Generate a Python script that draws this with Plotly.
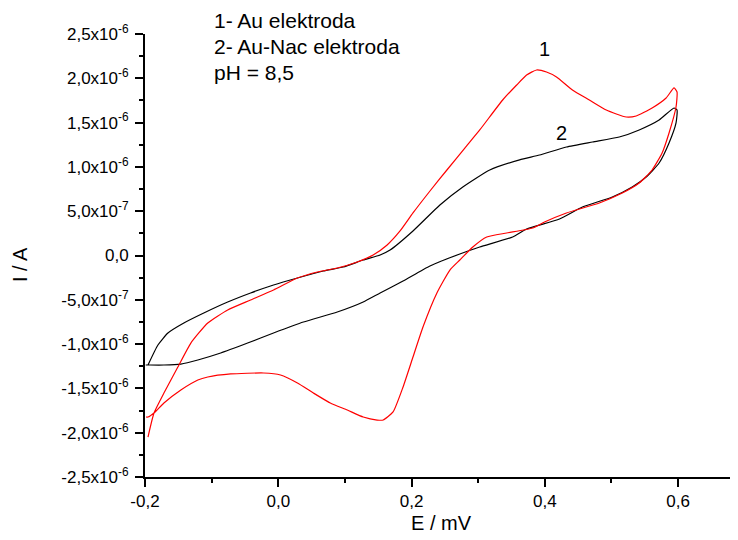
import plotly.graph_objects as go

# Curve 1: Au elektroda (red) - E in V, I in microampere
au_E = [-0.1955, -0.1865, -0.1716, -0.1507, -0.1312, -0.1058, -0.0759, -0.0415, -0.0071, 0.0288,
        0.0587, 0.0886, 0.1185, 0.1424, 0.1634, 0.1828, 0.2022, 0.2277, 0.2531, 0.2800,
        0.3024, 0.3368, 0.3578, 0.3727, 0.3877, 0.4026, 0.4176, 0.4415, 0.4669, 0.4923,
        0.5222, 0.5372, 0.5611, 0.5821, 0.5940, 0.5985,
        0.5970, 0.5865, 0.5761, 0.5611, 0.5417, 0.5163, 0.4819, 0.4325, 0.3996, 0.3817,
        0.3428, 0.3129, 0.2920, 0.2725, 0.2576, 0.2381, 0.2172, 0.2022, 0.1873, 0.1723,
        0.1574, 0.1484, 0.1275, 0.1036, 0.0781, 0.0527, 0.0288, 0.0034, -0.0221, -0.0714,
        -0.1058, -0.1207, -0.1462, -0.1716, -0.1865, -0.1955, -0.1985]
au_I = [-2.049, -1.778, -1.552, -1.259, -0.988, -0.762, -0.615, -0.502, -0.389, -0.254,
        -0.186, -0.141, -0.073, 0.006, 0.119, 0.277, 0.480, 0.728, 0.965, 1.213,
        1.417, 1.755, 1.924, 2.037, 2.094, 2.071, 2.015, 1.868, 1.755, 1.642,
        1.563, 1.575, 1.665, 1.778, 1.891, 1.845,
        1.676, 1.383, 1.157, 0.965, 0.818, 0.705, 0.593, 0.480, 0.378, 0.310,
        0.254, 0.209, 0.096, -0.051, -0.164, -0.423, -0.807, -1.146, -1.484, -1.766,
        -1.857, -1.857, -1.823, -1.744, -1.665, -1.552, -1.439, -1.349, -1.326, -1.337,
        -1.371, -1.405, -1.518, -1.665, -1.778, -1.823, -1.823]

# Curve 2: Au-Nac elektroda (black)
nac_E = [-0.1955, -0.1806, -0.1656, -0.1417, -0.1118, -0.0759, -0.0415, -0.0071, 0.0288, 0.0677,
         0.0976, 0.1275, 0.1529, 0.1678, 0.2022, 0.2426, 0.2770, 0.3174, 0.3622, 0.3921,
         0.4325, 0.4717, 0.5118, 0.5417, 0.5716, 0.5940, 0.5985,
         0.5970, 0.5865, 0.5716, 0.5522, 0.5312, 0.5013, 0.4565, 0.4221, 0.3727, 0.3518,
         0.3024, 0.2725, 0.2277, 0.1873, 0.1529, 0.1275, 0.0886, 0.0378, -0.0071, -0.0460,
         -0.0864, -0.1207, -0.1462, -0.1716, -0.1955, -0.1990]
nac_I = [-1.236, -1.010, -0.875, -0.762, -0.649, -0.525, -0.423, -0.333, -0.254, -0.175,
         -0.130, -0.051, 0.006, 0.062, 0.277, 0.570, 0.773, 0.965, 1.080, 1.134,
         1.225, 1.281, 1.337, 1.417, 1.529, 1.665, 1.642,
         1.496, 1.270, 1.044, 0.886, 0.773, 0.660, 0.547, 0.412, 0.299, 0.209,
         0.096, 0.017, -0.119, -0.288, -0.423, -0.525, -0.638, -0.751, -0.875, -0.988,
         -1.100, -1.179, -1.225, -1.236, -1.236, -1.236]

x_ticks = [-0.2, 0.0, 0.2, 0.4, 0.6]
x_ticktext = ["-0,2", "0,0", "0,2", "0,4", "0,6"]
y_ticks = [2.5e-6, 2.0e-6, 1.5e-6, 1.0e-6, 5.0e-7, 0.0, -5.0e-7, -1.0e-6, -1.5e-6, -2.0e-6, -2.5e-6]
y_ticktext = ["2,5x10<sup>-6</sup>", "2,0x10<sup>-6</sup>", "1,5x10<sup>-6</sup>", "1,0x10<sup>-6</sup>",
              "5,0x10<sup>-7</sup>", "0,0", "-5,0x10<sup>-7</sup>", "-1,0x10<sup>-6</sup>",
              "-1,5x10<sup>-6</sup>", "-2,0x10<sup>-6</sup>", "-2,5x10<sup>-6</sup>"]

FONT = "Arial, Liberation Sans, sans-serif"

# page geometry (browser body adds an 8px offset)
PL, PT, PW, PH = 145, 34, 593, 443


def px(x):
    return (x - PL) / PW


def py(y):
    return 1 - (y - PT) / PH


fig = go.Figure()
fig.add_trace(go.Scatter(x=nac_E, y=[v * 1e-6 for v in nac_I], mode="lines",
                         line=dict(color="#000000", width=1.2, shape="spline", smoothing=0.5), name="2"))
fig.add_trace(go.Scatter(x=au_E, y=[v * 1e-6 for v in au_I], mode="lines",
                         line=dict(color="#ff0000", width=1.2, shape="spline", smoothing=0.5), name="1"))

fig.update_layout(
    width=730, height=532,
    margin=dict(l=137, r=0, t=26, b=63),
    paper_bgcolor="white", plot_bgcolor="white",
    showlegend=False,
    font=dict(family=FONT, size=17, color="black"),
)
fig.update_xaxes(
    range=[-0.2, 0.69], tickvals=x_ticks, ticktext=x_ticktext,
    showgrid=False, zeroline=False, showline=True, linecolor="black", linewidth=2,
    ticks="outside", ticklen=8, tickwidth=2, tickcolor="black",
    minor=dict(dtick=0.1, tick0=0, ticks="outside", ticklen=4, tickwidth=2, tickcolor="black"),
)
fig.update_yaxes(
    range=[-2.5e-6, 2.5e-6], tickvals=y_ticks, ticktext=y_ticktext,
    showgrid=False, zeroline=False, showline=True, linecolor="black", linewidth=2,
    ticks="outside", ticklen=8, tickwidth=2, tickcolor="black", ticklabelstandoff=3,
    minor=dict(dtick=2.5e-7, tick0=0, ticks="outside", ticklen=4, tickwidth=2, tickcolor="black"),
)

# axis titles
fig.add_annotation(text="I / A", xref="paper", yref="paper", x=px(20), y=py(265),
                   textangle=-90, showarrow=False, xanchor="center", yanchor="middle",
                   font=dict(size=20, family=FONT))
fig.add_annotation(text="E / mV", xref="paper", yref="paper", x=px(441), y=py(523),
                   showarrow=False, xanchor="center", yanchor="middle",
                   font=dict(size=20, family=FONT))

notes = ["1- Au elektroda", "2- Au-Nac elektroda", "pH = 8,5"]
note_y = [20, 46, 72]
for txt, yy in zip(notes, note_y):
    fig.add_annotation(text=txt, xref="paper", yref="paper",
                       x=px(212), y=py(yy),
                       xanchor="left", yanchor="middle", showarrow=False,
                       font=dict(size=21, family=FONT))

fig.add_annotation(text="1", x=0.40, y=2.33e-6, showarrow=False, font=dict(size=20, family=FONT))
fig.add_annotation(text="2", x=0.425, y=1.38e-6, showarrow=False, font=dict(size=20, family=FONT))

fig.write_html("out.html")
